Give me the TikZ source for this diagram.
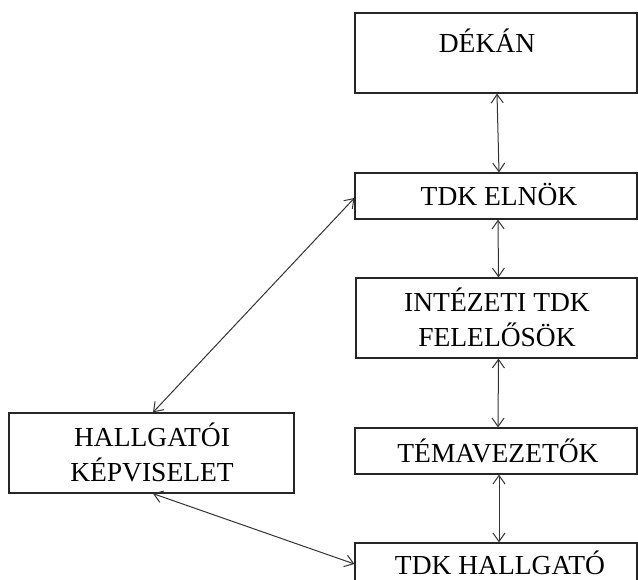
\documentclass[tikz,border=0pt]{standalone}
\usepackage{fontspec}
\setmainfont{Liberation Serif}
\usetikzlibrary{arrows.meta}
\begin{document}
\begin{tikzpicture}[x=1pt,y=-1pt,
  box/.style={draw=black!85, line width=1.2pt, rectangle, inner sep=0pt},
  txt/.style={font=\fontsize{27.5}{35}\selectfont, inner sep=0pt, text height=19pt, text depth=0pt, text=black},
  txttwo/.style={txt, align=center, text height=54pt},
  link/.style={draw=black!80, line width=1pt, {Straight Barb[length=8.5pt,width=12pt]}-{Straight Barb[length=8.5pt,width=12pt]}}]
\useasboundingbox (0,0) rectangle (638,580);
\clip (0,0) rectangle (638,580);
\fill[white] (0,0) rectangle (638,580);
% boxes
\node[box, minimum width=282pt, minimum height=80pt] (dekan) at (496,53) {};
\node[box, minimum width=282pt, minimum height=46pt] (elnok) at (496,196) {};
\node[box, minimum width=281pt, minimum height=80pt] (intezeti) at (496.5,318) {};
\node[box, minimum width=282pt, minimum height=46pt] (tema) at (496,451) {};
\node[box, minimum width=282pt, minimum height=46pt] (hallgato) at (496,566) {};
\node[box, minimum width=285pt, minimum height=80pt] (hk) at (151.5,453) {};
% texts
\node[txt] (tdekan) at (487,43) {DÉKÁN};
\node[txt] (telnok) at (499,196) {TDK ELNÖK};
\node[txttwo] (tintezeti) at (497,319.5) {INTÉZETI TDK\\FELELŐSÖK};
\node[txt] (ttema) at (498,453) {TÉMAVEZETŐK};
\node[txt] (thallgato) at (500,565) {TDK HALLGATÓ};
\node[txttwo] (thk) at (152,454) {HALLGATÓI\\KÉPVISELET};
% connectors
\draw[link] ([xshift=1pt]dekan.south) -- ([xshift=3pt]elnok.north);
\draw[link] ([xshift=2pt]elnok.south) -- ([xshift=2pt]intezeti.north);
\draw[link] ([xshift=2pt]intezeti.south) -- ([xshift=2pt]tema.north);
\draw[link] ([xshift=3pt]tema.south) -- ([xshift=3pt]hallgato.north);
\draw[link] ([yshift=-2pt]elnok.west) -- ([xshift=1.5pt]hk.north);
\draw[link] ([xshift=1.5pt]hk.south) -- ([yshift=2pt]hallgato.west);
\end{tikzpicture}
\end{document}
